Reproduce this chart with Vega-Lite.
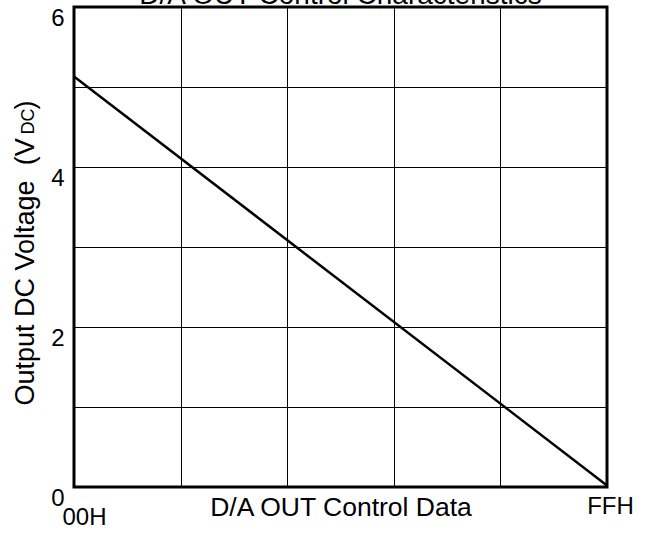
{
  "$schema": "https://vega.github.io/schema/vega-lite/v6.json",
  "width": 533,
  "height": 480,
  "autosize": {"type": "none"},
  "padding": {"left": 74, "top": 7, "right": 43, "bottom": 53},
  "config": {
    "view": {"stroke": "black", "strokeWidth": 3},
    "font": "Liberation Sans"
  },
  "title": {
    "text": "D/A OUT Control Characteristics",
    "fontSize": 28,
    "font": "Liberation Sans",
    "fontWeight": "normal",
    "color": "black",
    "baseline": "bottom",
    "offset": 0,
    "dy": 32,
    "anchor": "middle"
  },
  "data": {"values": [{"code": 0, "v": 5.13}, {"code": 255, "v": 0.02}]},
  "resolve": {"axis": {"y": "independent"}},
  "layer": [
    {
      "mark": {"type": "line", "stroke": "black", "strokeWidth": 2.5},
      "encoding": {
        "x": {
          "field": "code",
          "type": "quantitative",
          "scale": {"domain": [0, 255], "nice": false},
          "axis": {
            "values": [0, 51, 102, 153, 204, 255],
            "grid": true,
            "gridColor": "black",
            "gridWidth": 1,
            "gridOpacity": 1,
            "domain": false,
            "ticks": false,
            "labelExpr": "datum.value == 0 ? '00H' : datum.value == 255 ? 'FFH' : ''",
            "labelFontSize": 24,
            "labelColor": "black",
            "labelBaseline": "middle",
            "labelPadding": {"condition": {"test": "datum.value == 0", "value": 30}, "value": 19},
            "labelOffset": {"condition": {"test": "datum.value == 0", "value": 10}, "value": 3},
            "labelFlush": false,
            "labelOverlap": false,
            "labelBound": false,
            "title": "D/A OUT Control Data",
            "titleFontSize": 26.5,
            "titleFontWeight": "normal",
            "titleColor": "black",
            "titleBaseline": "middle",
            "titleX": 266.5,
            "titleY": 20
          }
        },
        "y": {
          "field": "v",
          "type": "quantitative",
          "scale": {"domain": [0, 6], "nice": false},
          "axis": {
            "orient": "left",
            "values": [0, 1, 2, 3, 4, 5, 6],
            "grid": true,
            "gridColor": "black",
            "gridWidth": 1,
            "gridOpacity": 1,
            "domain": false,
            "ticks": false,
            "labelExpr": "datum.value % 2 == 0 ? datum.label : ''",
            "labelFontSize": 24,
            "labelColor": "black",
            "labelAlign": "right",
            "labelBaseline": "middle",
            "labelPadding": 10,
            "labelOffset": 11,
            "labelFlush": false,
            "labelOverlap": false,
            "title": "Output DC Voltage \u00a0(V",
            "titleFontSize": 27,
            "titleFontWeight": "normal",
            "titleColor": "black",
            "titleAngle": -90,
            "titleAlign": "left",
            "titleBaseline": "alphabetic",
            "titleX": -41,
            "titleY": 398
          }
        }
      }
    },
    {
      "mark": {"type": "line", "strokeOpacity": 0},
      "encoding": {
        "y": {
          "field": "v",
          "type": "quantitative",
          "axis": {
            "orient": "left",
            "grid": false,
            "labels": false,
            "ticks": false,
            "domain": false,
            "title": "DC",
            "titleFontSize": 18,
            "titleFontWeight": "normal",
            "titleColor": "black",
            "titleAngle": -90,
            "titleAlign": "left",
            "titleBaseline": "alphabetic",
            "titleX": -41,
            "titleY": 127
          }
        }
      }
    },
    {
      "mark": {"type": "line", "strokeOpacity": 0},
      "encoding": {
        "y": {
          "field": "v",
          "type": "quantitative",
          "axis": {
            "orient": "left",
            "grid": false,
            "labels": false,
            "ticks": false,
            "domain": false,
            "title": ")",
            "titleFontSize": 27,
            "titleFontWeight": "normal",
            "titleColor": "black",
            "titleAngle": -90,
            "titleAlign": "left",
            "titleBaseline": "alphabetic",
            "titleX": -41,
            "titleY": 102
          }
        }
      }
    }
  ]
}
